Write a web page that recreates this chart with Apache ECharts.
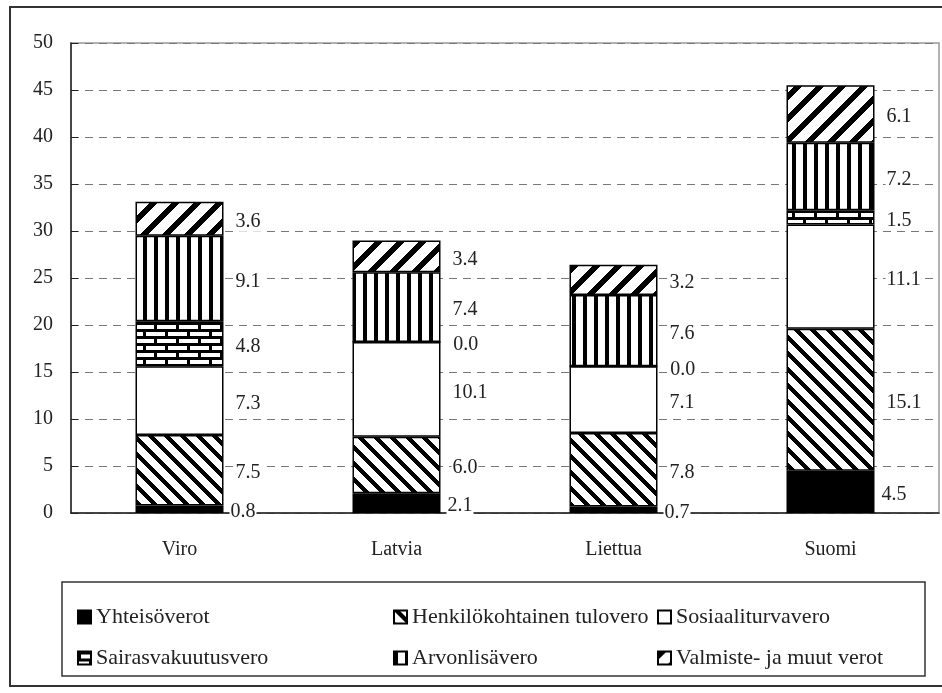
<!DOCTYPE html>
<html>
<head>
<meta charset="utf-8">
<script src="https://cdn.jsdelivr.net/npm/echarts@6/dist/echarts.min.js"></script>
<style>
html,body{margin:0;padding:0;background:#fff;}
#chart{width:942px;height:693px;}
</style>
</head>
<body>
<div id="chart"></div>
<script>
const categories = ['Viro', 'Latvia', 'Liettua', 'Suomi'];
const seriesNames = ['Yhteisöverot', 'Henkilökohtainen tulovero', 'Sosiaaliturvavero',
  'Sairasvakuutusvero', 'Arvonlisävero', 'Valmiste- ja muut verot'];
const yhteisoverot = [0.8, 2.1, 0.7, 4.5];
const tulovero = [7.5, 6.0, 7.8, 15.1];
const sosiaaliturva = [7.3, 10.1, 7.1, 11.1];
const sairasvakuutus = [4.8, 0.0, 0.0, 1.5];
const arvonlisa = [9.1, 7.4, 7.6, 7.2];
const valmiste = [3.6, 3.4, 3.2, 6.1];
const yTicks = { min: 0, max: 50, interval: 5 };

const FONT = '"Liberation Serif", "DejaVu Serif", serif';

function tile(w, h, draw) {
  const c = document.createElement('canvas');
  c.width = w; c.height = h;
  const g = c.getContext('2d');
  g.fillStyle = '#fff'; g.fillRect(0, 0, w, h);
  g.fillStyle = '#000';
  draw(g, w, h);
  return { image: c, repeat: 'repeat' };
}
const patDown = tile(16, 16, (g, P) => {
  for (let y = 0; y < P; y++) for (let k = 0; k < 6; k++) g.fillRect((y + k) % P, y, 1, 1);
});
const patUp = tile(22, 22, (g, P) => {
  for (let y = 0; y < P; y++) for (let k = 0; k < 8; k++) g.fillRect((P * 2 - y + k) % P, y, 1, 1);
});
const patVert = tile(11, 11, (g) => { g.fillRect(0, 0, 4, 11); });
const patBrick = tile(22, 14, (g) => {
  g.fillRect(0, 0, 22, 3); g.fillRect(0, 7, 22, 3);
  g.fillRect(0, 3, 3, 4); g.fillRect(11, 10, 3, 4);
});

const fills = ['#000000', patDown, '#ffffff', patBrick, patVert, patUp];
const values = [yhteisoverot, tulovero, sosiaaliturva, sairasvakuutus, arvonlisa, valmiste];

const series = seriesNames.map((name, i) => ({
  name: name,
  type: 'bar',
  stack: 'total',
  barWidth: 88,
  data: values[i],
  itemStyle: { color: fills[i], borderColor: '#000', borderWidth: 1.5 },
  emphasis: { disabled: true },
  label: {
    show: true,
    position: 'right',
    distance: i === 0 ? 6 : 11,
    offset: [0, 3],
    formatter: p => Number(p.value).toFixed(1),
    fontFamily: FONT,
    fontSize: 20,
    color: '#222',
    backgroundColor: '#fff',
    padding: [0, 1]
  }
}));

const legendBase = {
  orient: 'vertical',
  top: 601,
  itemWidth: 13,
  itemHeight: 13,
  itemGap: 19,
  icon: 'rect',
  selectedMode: false,
  textStyle: { fontFamily: FONT, fontSize: 22, lineHeight: 22, color: '#222' }
};

const chart = echarts.init(document.getElementById('chart'), null, { renderer: 'canvas' });
chart.setOption({
  animation: false,
  backgroundColor: '#fff',
  grid: { left: 71, right: 3, top: 43, bottom: 180, show: true, borderColor: '#999', borderWidth: 1.5 },
  xAxis: {
    type: 'category',
    data: categories,
    axisLine: { lineStyle: { color: '#222', width: 1.5 } },
    axisTick: { inside: true, length: 7, lineStyle: { color: '#222' } },
    axisLabel: { margin: 27, fontFamily: FONT, fontSize: 20, color: '#222' }
  },
  yAxis: {
    type: 'value',
    min: yTicks.min, max: yTicks.max, interval: yTicks.interval,
    axisLine: { show: true, lineStyle: { color: '#222', width: 1.5 } },
    axisTick: { show: true, inside: true, length: 7, lineStyle: { color: '#222' } },
    axisLabel: { margin: 18, fontFamily: FONT, fontSize: 20, color: '#222' },
    splitLine: { show: true, lineStyle: { color: '#777', type: [8, 6], width: 1 } }
  },
  legend: [
    Object.assign({}, legendBase, { left: 72, data: [seriesNames[0], seriesNames[3]] }),
    Object.assign({}, legendBase, { left: 388, data: [seriesNames[1], seriesNames[4]] }),
    Object.assign({}, legendBase, { left: 652, data: [seriesNames[2], seriesNames[5]] })
  ],
  graphic: [
    { type: 'rect', z: -1, shape: { x: 10, y: 7, width: 960, height: 679 }, style: { fill: 'none', stroke: '#333', lineWidth: 2 } },
    { type: 'rect', z: -1, shape: { x: 62, y: 582, width: 863, height: 94 }, style: { fill: 'none', stroke: '#333', lineWidth: 1.5 } }
  ],
  series: series
});
</script>
</body>
</html>
